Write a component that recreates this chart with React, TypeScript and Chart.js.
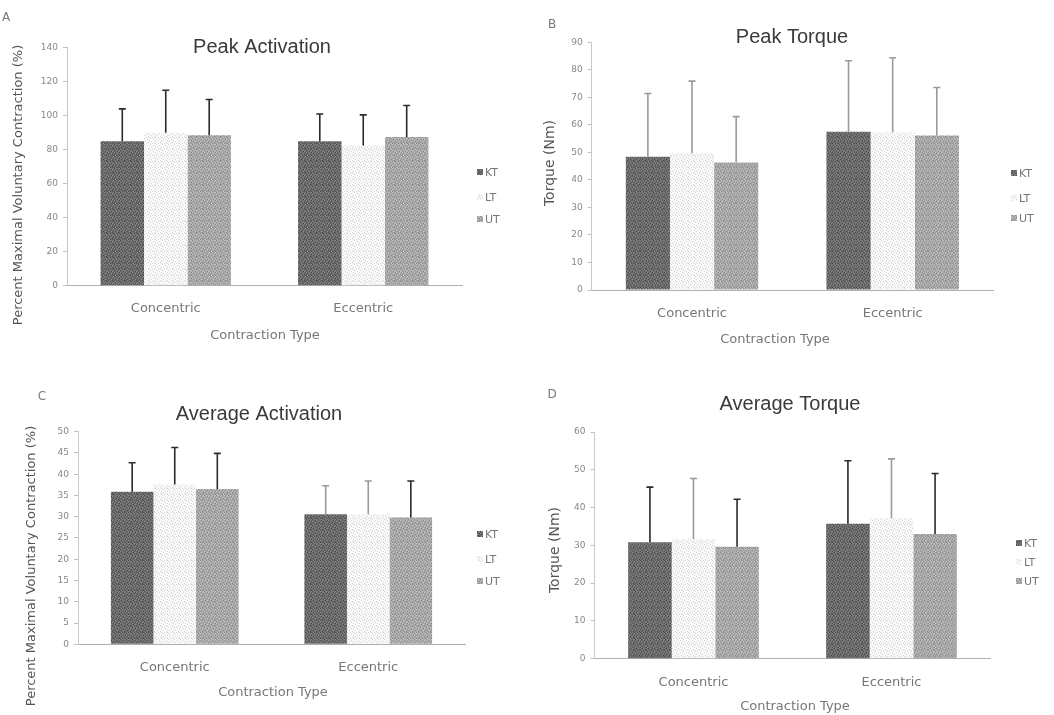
import React, { useEffect, useRef } from "react";
import { Chart, registerables } from "chart.js";
Chart.register(...registerables);

const categories = ["Concentric", "Eccentric"];
const seriesNames = ["KT", "LT", "UT"];

// Panel A: Peak Activation
const peakActKT = [85, 85];
const peakActLT = [90, 82.5];
const peakActUT = [88.5, 87.5];
const peakActKTErr = [19, 16];
const peakActLTErr = [25, 18];
const peakActUTErr = [21, 18.5];
const peakActTicks = [0, 20, 40, 60, 80, 100, 120, 140];

// Panel B: Peak Torque
const peakTorKT = [48.4, 57.5];
const peakTorLT = [49.7, 57.3];
const peakTorUT = [46.3, 56.1];
const peakTorKTErr = [23, 25.8];
const peakTorLTErr = [26.2, 27.1];
const peakTorUTErr = [16.7, 17.5];
const peakTorTicks = [0, 10, 20, 30, 40, 50, 60, 70, 80, 90];

// Panel C: Average Activation
const avgActKT = [35.9, 30.6];
const avgActLT = [37.6, 30.6];
const avgActUT = [36.5, 29.8];
const avgActKTErr = [6.8, 6.7];
const avgActLTErr = [8.7, 7.8];
const avgActUTErr = [8.4, 8.6];
const avgActTicks = [0, 5, 10, 15, 20, 25, 30, 35, 40, 45, 50];

// Panel D: Average Torque
const avgTorKT = [30.8, 35.7];
const avgTorLT = [31.7, 37.2];
const avgTorUT = [29.6, 33];
const avgTorKTErr = [14.6, 16.7];
const avgTorLTErr = [16, 15.7];
const avgTorUTErr = [12.6, 16];
const avgTorTicks = [0, 10, 20, 30, 40, 50, 60];

const DARK = "#2a2a2a";
const GREY = "#9a9a9a";

type Panel = {
  left: number; top: number; width: number; height: number;
  area: { left: number; top: number; right: number; bottom: number };
  letter: string; letterPos: [number, number];
  title: string; titlePos: [number, number];
  yTitle: string; yTitlePos: [number, number]; yTitleSize: number;
  xTitle: string; xTitlePos: [number, number];
  tickPad: number;
  legendPos: [number, number][];
  values: number[][]; errors: number[][];
  errColors: string[][];
  yTicks: number[];
};

const panels: Panel[] = [
  {
    left: 0, top: 0, width: 527, height: 357,
    area: { left: 67, top: 47.7, right: 462, bottom: 285.7 },
    letter: "A", letterPos: [6, 18],
    title: "Peak Activation", titlePos: [262, 47],
    yTitle: "Percent Maximal Voluntary Contraction (%)", yTitlePos: [19, 185], yTitleSize: 13,
    xTitle: "Contraction Type", xTitlePos: [265, 336],
    tickPad: 15,
    legendPos: [[480, 172], [480, 197], [480, 219]],
    values: [peakActKT, peakActLT, peakActUT],
    errors: [peakActKTErr, peakActLTErr, peakActUTErr],
    errColors: [[DARK, DARK], [DARK, DARK], [DARK, DARK]],
    yTicks: peakActTicks,
  },
  {
    left: 527, top: 0, width: 527, height: 357,
    area: { left: 591.7, top: 42.3, right: 993, bottom: 290 },
    letter: "B", letterPos: [552, 25],
    title: "Peak Torque", titlePos: [792, 37],
    yTitle: "Torque (Nm)", yTitlePos: [550, 163], yTitleSize: 14,
    xTitle: "Contraction Type", xTitlePos: [775, 340],
    tickPad: 16,
    legendPos: [[1014, 173], [1014, 198], [1014, 218]],
    values: [peakTorKT, peakTorLT, peakTorUT],
    errors: [peakTorKTErr, peakTorLTErr, peakTorUTErr],
    errColors: [[GREY, GREY], [GREY, GREY], [GREY, GREY]],
    yTicks: peakTorTicks,
  },
  {
    left: 0, top: 357, width: 527, height: 358,
    area: { left: 78, top: 431.7, right: 465, bottom: 644.3 },
    letter: "C", letterPos: [42, 397],
    title: "Average Activation", titlePos: [259, 414],
    yTitle: "Percent Maximal Voluntary Contraction (%)", yTitlePos: [32, 566], yTitleSize: 13,
    xTitle: "Contraction Type", xTitlePos: [273, 693],
    tickPad: 16,
    legendPos: [[480, 534], [480, 559], [480, 581]],
    values: [avgActKT, avgActLT, avgActUT],
    errors: [avgActKTErr, avgActLTErr, avgActUTErr],
    errColors: [[DARK, GREY], [DARK, GREY], [DARK, DARK]],
    yTicks: avgActTicks,
  },
  {
    left: 527, top: 357, width: 527, height: 358,
    area: { left: 594.5, top: 432, right: 990.5, bottom: 658.7 },
    letter: "D", letterPos: [552, 395],
    title: "Average Torque", titlePos: [790, 404],
    yTitle: "Torque (Nm)", yTitlePos: [555, 550], yTitleSize: 14,
    xTitle: "Contraction Type", xTitlePos: [795, 707],
    tickPad: 16,
    legendPos: [[1019, 543], [1019, 562], [1019, 581]],
    values: [avgTorKT, avgTorLT, avgTorUT],
    errors: [avgTorKTErr, avgTorLTErr, avgTorUTErr],
    errColors: [[DARK, DARK], [GREY, GREY], [DARK, DARK]],
    yTicks: avgTorTicks,
  },
];

// fixed (non-random) stipple layout for the bar texture
const DARK_DOTS = [[0, 0], [3, 1], [5, 2], [1, 3], [4, 4], [2, 5], [5, 5]];
const LIGHT_DOTS = [[2, 0], [5, 0], [0, 2], [3, 3], [1, 5], [4, 1]];

function makePattern(base: string, dark: string, light: string): CanvasPattern | string {
  const c = document.createElement("canvas");
  c.width = 6; c.height = 6;
  const g = c.getContext("2d");
  if (!g) return base;
  g.fillStyle = base; g.fillRect(0, 0, 6, 6);
  g.fillStyle = dark;
  DARK_DOTS.forEach(([x, y]) => g.fillRect(x, y, 1, 1));
  g.fillStyle = light;
  LIGHT_DOTS.forEach(([x, y]) => g.fillRect(x, y, 1, 1));
  const p = g.createPattern(c, "repeat");
  return p || base;
}

const SANS = "'DejaVu Sans', sans-serif";

const decorPlugin = {
  id: "decor",
  afterDatasetsDraw(chart: any) {
    const ctx = chart.ctx as CanvasRenderingContext2D;
    const yScale = chart.scales.y;
    chart.data.datasets.forEach((ds: any, i: number) => {
      const meta = chart.getDatasetMeta(i);
      meta.data.forEach((bar: any, j: number) => {
        const v = ds.data[j];
        const e = ds.errors[j];
        const yTop = yScale.getPixelForValue(v + e);
        ctx.save();
        ctx.strokeStyle = ds.errColors[j];
        ctx.lineWidth = 1.6;
        ctx.beginPath();
        ctx.moveTo(bar.x, bar.y);
        ctx.lineTo(bar.x, yTop);
        ctx.moveTo(bar.x - 3.5, yTop);
        ctx.lineTo(bar.x + 3.5, yTop);
        ctx.stroke();
        ctx.restore();
      });
    });
  },
  afterDraw(chart: any, _args: any, opts: any) {
    const ctx = chart.ctx as CanvasRenderingContext2D;
    const p: Panel = opts.panel;
    const ox = p.left, oy = p.top;
    ctx.save();
    ctx.textAlign = "center";
    ctx.textBaseline = "middle";
    ctx.fillStyle = "#777";
    ctx.font = `12px ${SANS}`;
    ctx.fillText(p.letter, p.letterPos[0] - ox, p.letterPos[1] - oy);
    ctx.fillStyle = "#3a3a3a";
    ctx.font = "20px 'Liberation Sans', Arial, sans-serif";
    ctx.fillText(p.title, p.titlePos[0] - ox, p.titlePos[1] - oy);
    ctx.fillStyle = "#777";
    ctx.font = `13px ${SANS}`;
    ctx.fillText(p.xTitle, p.xTitlePos[0] - ox, p.xTitlePos[1] - oy);
    ctx.save();
    ctx.translate(p.yTitlePos[0] - ox, p.yTitlePos[1] - oy);
    ctx.rotate(-Math.PI / 2);
    ctx.fillStyle = "#555";
    ctx.font = `${p.yTitleSize}px ${SANS}`;
    ctx.fillText(p.yTitle, 0, 0);
    ctx.restore();
    ctx.textAlign = "left";
    ctx.font = `11px ${SANS}`;
    chart.data.datasets.forEach((ds: any, i: number) => {
      const [lx, ly] = p.legendPos[i];
      ctx.fillStyle = ds.backgroundColor;
      ctx.fillRect(lx - ox - 3, ly - oy - 3, 6, 6);
      ctx.fillStyle = "#777";
      ctx.fillText(ds.label, lx - ox + 5, ly - oy + 1);
    });
    ctx.restore();
  },
};

function PanelChart({ panel }: { panel: Panel }) {
  const ref = useRef<HTMLCanvasElement>(null);
  useEffect(() => {
    if (!ref.current) return;
    const fills = [
      makePattern("#6c6c6c", "#4a4a4a", "#8a8a8a"),
      makePattern("#f8f8f8", "#d4d4d4", "#ffffff"),
      makePattern("#a8a8a8", "#8a8a8a", "#c6c6c6"),
    ];
    const a = panel.area;
    const rel = {
      left: a.left - panel.left,
      top: a.top - panel.top,
      right: a.right - panel.left,
      bottom: a.bottom - panel.top,
    };
    const yt = panel.yTicks;
    const chart = new Chart(ref.current, {
      type: "bar",
      data: {
        labels: categories,
        datasets: seriesNames.map((name, i) => ({
          label: name,
          data: panel.values[i],
          errors: panel.errors[i],
          errColors: panel.errColors[i],
          backgroundColor: fills[i] as any,
          borderWidth: 0,
          categoryPercentage: 0.66,
          barPercentage: 1.0,
        })) as any,
      },
      options: {
        responsive: false,
        animation: false,
        devicePixelRatio: 1,
        events: [],
        layout: {
          padding: { left: 0, top: rel.top, right: panel.width - rel.right, bottom: 0 },
        },
        plugins: {
          legend: { display: false },
          title: { display: false },
          tooltip: { enabled: false },
          decor: { panel },
        } as any,
        scales: {
          x: {
            grid: { display: false, drawTicks: false },
            border: { display: true, color: "#b0b0b0", dash: [1, 2], width: 1 },
            ticks: { font: { family: SANS, size: 13 }, color: "#777", padding: panel.tickPad },
            afterFit: (s: any) => { s.height = panel.height - rel.bottom; },
          },
          y: {
            min: yt[0],
            max: yt[yt.length - 1],
            ticks: { stepSize: yt[1] - yt[0], font: { family: SANS, size: 9 }, color: "#888", padding: 5 },
            grid: { drawOnChartArea: false, drawTicks: true, tickLength: 4, color: "#c0c0c0" },
            border: { display: true, color: "#c8c8c8", dash: [1, 2], width: 1 },
            afterFit: (s: any) => { s.width = rel.left; },
          },
        },
      },
      plugins: [decorPlugin],
    } as any);
    return () => chart.destroy();
  }, [panel]);
  return (
    <canvas
      ref={ref}
      width={panel.width}
      height={panel.height}
      style={{ position: "absolute", left: panel.left, top: panel.top, width: panel.width, height: panel.height }}
    />
  );
}

export default function App() {
  return (
    <div style={{ position: "absolute", left: 0, top: 0, width: 1054, height: 715, background: "#fff", overflow: "hidden" }}>
      {panels.map((p) => (
        <PanelChart key={p.letter} panel={p} />
      ))}
    </div>
  );
}
